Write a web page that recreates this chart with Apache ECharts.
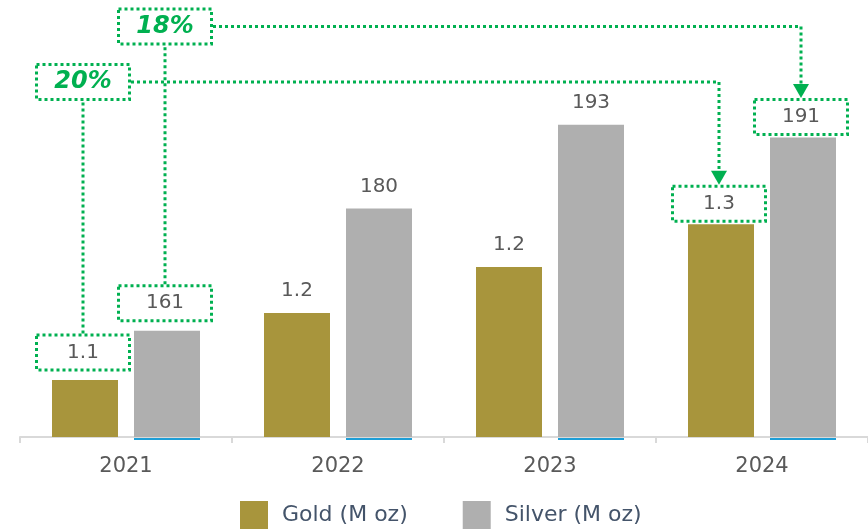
<!DOCTYPE html>
<html>
<head>
<meta charset="utf-8">
<script src="https://cdn.jsdelivr.net/npm/echarts@6/dist/echarts.min.js"></script>
<style>html,body{margin:0;padding:0;background:#fff}#c{width:868px;height:532px}</style>
</head>
<body>
<div id="c"></div>
<script>
// ---- data ----
const categories = ['2021', '2022', '2023', '2024'];
const seriesNames = ['Gold (M oz)', 'Silver (M oz)'];
const goldValues = [1.08, 1.16, 1.215, 1.266];
const silverValues = [161, 180, 193, 191];
const growthLabels = ['20%', '18%'];   // gold, silver growth 2021 -> 2024
const boxedIndex = [0, 3];              // categories whose labels are boxed

// ---- style ----
const GOLD = '#A8953C', SILVER = '#AFAFAF', GREEN = '#00B050', BLUE = '#1E9ED6';
const FONT = 'DejaVu Sans';
const BAR_W = 66, GAP = 16;
const BOX_W = 93, BOX_H = 35, BW = 3;
const PCT_Y = [82, 26.5];
const ARROW_W = 16, ARROW_H = 14;
const boxDist = {0: 10, 3: 3};
const BOX_DX = -2;

function mkData(vals) {
  return vals.map((v, i) => {
    if (boxedIndex.indexOf(i) < 0) return v;
    return {
      value: v,
      label: {
        width: BOX_W, height: BOX_H, lineHeight: BOX_H,
        borderColor: GREEN, borderWidth: BW, borderType: [3, 3],
        distance: boxDist[i], offset: [BOX_DX, 0]
      }
    };
  });
}

const chart = echarts.init(document.getElementById('c'), null, {renderer: 'canvas'});
const option = {
  animation: false,
  grid: {left: 20, width: 853.3, top: 37, bottom: 95},
  legend: {
    data: seriesNames, icon: 'rect', itemWidth: 28, itemHeight: 28, itemGap: 55,
    left: 235, top: 496,
    textStyle: {fontFamily: FONT, fontSize: 22, color: '#44546A', padding: [0, 0, 0, 9]}
  },
  xAxis: {
    type: 'category', data: categories,
    axisLine: {lineStyle: {color: '#D9D9D9', width: 2}},
    axisTick: {show: true, length: 6, lineStyle: {color: '#D9D9D9', width: 2}},
    axisLabel: {fontFamily: FONT, fontSize: 21, color: '#595959', margin: 19}
  },
  yAxis: [
    {type: 'value', show: false, min: 1.012, max: 1.012 + 400 / 837.5, splitLine: {show: false}},
    {type: 'value', show: false, min: 144.5, max: 144.5 + 400 / 6.44, splitLine: {show: false}}
  ],
  series: [
    {
      name: seriesNames[0], type: 'bar', yAxisIndex: 0, barWidth: BAR_W, barGap: (GAP / BAR_W * 100) + '%',
      itemStyle: {color: GOLD},
      label: {show: true, position: 'top', distance: 12, fontFamily: FONT, fontSize: 20, color: '#595959',
        lineHeight: 20, formatter: p => p.value.toFixed(1)},
      data: mkData(goldValues)
    },
    {
      name: seriesNames[1], type: 'bar', yAxisIndex: 1, barWidth: BAR_W,
      itemStyle: {color: SILVER},
      label: {show: true, position: 'top', distance: 12, fontFamily: FONT, fontSize: 20, color: '#595959',
        lineHeight: 20, formatter: p => String(Math.round(p.value))},
      data: mkData(silverValues)
    }
  ]
};
chart.setOption(option);

// ---- annotations computed through the chart's scales ----
const off = (BAR_W + GAP) / 2;
const catX = i => chart.convertToPixel({xAxisIndex: 0}, i);
const topY = (axis, v) => chart.convertToPixel({yAxisIndex: axis}, v);
const baseY = chart.convertToPixel({yAxisIndex: 0}, option.yAxis[0].min);
const vals = [goldValues, silverValues];

function boxOf(s, i) {
  const cx = catX(i) + (s === 0 ? -off : off) + BOX_DX;
  const innerBottom = topY(s, vals[s][i]) - boxDist[i];
  const outerTop = innerBottom - BOX_H - BW / 2;
  return {cx, outerTop};
}

const lineStyle = {stroke: GREEN, lineWidth: 3, lineDash: [3, 3], fill: null};
const graphics = [];
const first = boxedIndex[0], last = boxedIndex[boxedIndex.length - 1];
for (let s = 0; s < 2; s++) {
  const a = boxOf(s, first), b = boxOf(s, last);
  const py = PCT_Y[s];
  graphics.push({type: 'rect', shape: {x: a.cx - BOX_W / 2, y: py - BOX_H / 2, width: BOX_W, height: BOX_H},
    style: Object.assign({}, lineStyle), z: 10});
  graphics.push({type: 'text', x: a.cx, y: py, style: {text: growthLabels[s], fill: GREEN,
    font: 'italic bold 24px "' + FONT + '"', align: 'center', verticalAlign: 'middle'}, z: 11});
  graphics.push({type: 'polyline', shape: {points: [[a.cx, a.outerTop], [a.cx, py + BOX_H / 2 + BW / 2]]},
    style: Object.assign({}, lineStyle), z: 10});
  graphics.push({type: 'polyline', shape: {points: [[a.cx + BOX_W / 2 + BW / 2, py], [b.cx, py], [b.cx, b.outerTop - ARROW_H]]},
    style: Object.assign({}, lineStyle), z: 10});
  graphics.push({type: 'polygon', shape: {points: [[b.cx - ARROW_W / 2, b.outerTop - ARROW_H], [b.cx + ARROW_W / 2, b.outerTop - ARROW_H], [b.cx, b.outerTop]]},
    style: {fill: GREEN}, z: 11});
}
categories.forEach((c, i) => {
  graphics.push({type: 'rect', shape: {x: catX(i) + off - BAR_W / 2, y: baseY + 1, width: BAR_W, height: 2},
    style: {fill: BLUE}, z: 12});
});
chart.setOption({graphic: graphics});
</script>
</body>
</html>
